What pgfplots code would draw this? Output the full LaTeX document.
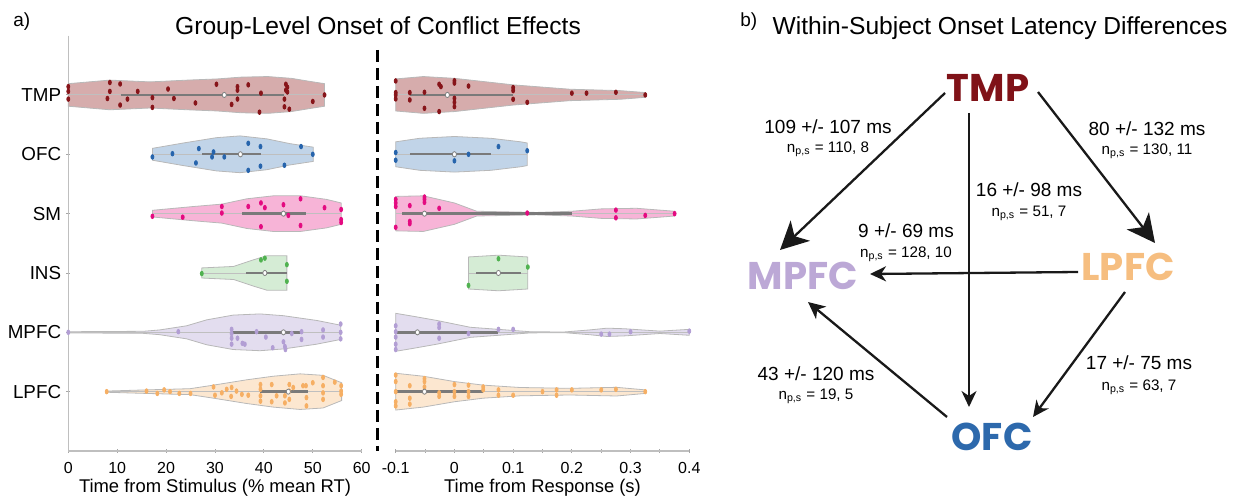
\documentclass[border=0pt]{standalone}
\usepackage{fontspec}
\setmainfont{Liberation Sans}
\newfontfamily\geo{Poppins}
\usepackage{pgfplots}
\pgfplotsset{compat=1.18}
\usetikzlibrary{arrows.meta}

% region colours: light fill / dark points
\definecolor{tmpF}{RGB}{214,172,172}
\definecolor{tmpD}{RGB}{135,20,25}
\definecolor{ofcF}{RGB}{193,212,232}
\definecolor{ofcD}{RGB}{38,100,172}
\definecolor{smF}{RGB}{247,180,215}
\definecolor{smD}{RGB}{228,10,128}
\definecolor{insF}{RGB}{213,236,213}
\definecolor{insD}{RGB}{80,178,80}
\definecolor{mpF}{RGB}{227,221,239}
\definecolor{mpD}{RGB}{178,158,212}
\definecolor{lpF}{RGB}{252,231,208}
\definecolor{lpD}{RGB}{246,175,100}
% node colours of the latency graph
\definecolor{nTMP}{RGB}{128,18,24}
\definecolor{nMPFC}{RGB}{188,168,214}
\definecolor{nLPFC}{RGB}{246,190,128}
\definecolor{nOFC}{RGB}{45,105,172}

\pgfplotsset{
  vviolin/.style={draw=black!28, line width=0.4pt, fill=#1},
  vwhisk/.style={draw=black!25, line width=0.45pt},
  viqr/.style={draw=black!52, line width=1.2pt},
  vmed/.style={only marks, mark=*, mark size=1.3pt,
    mark options={fill=white, draw=black!50, line width=0.4pt, xscale=0.8}},
  vpts/.style={only marks, mark=*, color=#1, mark size=1.15pt,
    mark options={xscale=0.65}},
  viol/.style={
    scale only axis, height=207.7pt,
    ymin=0, ymax=7, y dir=reverse, clip=false,
    tick style={draw=black!35, line width=0.45pt},
    tick align=inside, major tick length=1.8pt, minor tick length=1.8pt,
    /pgf/number format/assume math mode=true,
    xticklabel style={font=\fontsize{8}{9}\selectfont, anchor=base, yshift=-10.5pt},
    xlabel style={font=\fontsize{9.2}{10}\selectfont,
      at={(axis description cs:0.5,0)}, anchor=base, yshift=-20.5pt},
  },
  vlines/.style={
    axis line style={-, draw=black!25, line width=0.7pt},
    x axis line style={-}, y axis line style={-},
  },
}

\newcommand\latency[5]{% x, y1, y2, main text, n text
  \node[anchor=base, inner sep=0pt, font=\fontsize{9.5}{10}\selectfont]
    at (axis cs:#1,#2) {#4};
  \node[anchor=base, inner sep=0pt, font=\fontsize{7.6}{8}\selectfont]
    at (axis cs:#1,#3) {n\textsubscript{p,s} = #5};
}

\begin{document}
\begin{tikzpicture}
\path[use as bounding box] (0,0) rectangle (618pt,248.5pt);

\node[anchor=base west, inner sep=0pt, font=\fontsize{9.5}{10}\selectfont] at (6.5pt,235pt) {a)};
\node[anchor=base west, inner sep=0pt, font=\fontsize{9.5}{10}\selectfont] at (370pt,235pt) {b)};
\node[anchor=base, inner sep=0pt, font=\fontsize{12.3}{14}\selectfont] at (189pt,231pt)
  {Group-Level Onset of Conflict Effects};
\node[anchor=base, inner sep=0pt, font=\fontsize{12.3}{14}\selectfont] at (500pt,231pt)
  {Within-Subject Onset Latency Differences};

%% ---------- stimulus-locked onsets ----------
\begin{axis}[viol,
  at={(34.15pt,23pt)}, anchor=south west, width=146.7pt,
  xmin=0, xmax=60, xtick={0,10,...,60},
  axis x line=bottom, axis y line=left, vlines,
  ytick={1,2,3,4,5,6}, yticklabels={TMP,OFC,SM,INS,MPFC,LPFC},
  yticklabel style={font=\fontsize{9.4}{10}\selectfont, anchor=east, inner sep=0pt, xshift=-2.5pt},
  xlabel={Time from Stimulus (\% mean RT)},
]
% TMP
\addplot[vviolin=tmpF] coordinates {(0,0.81)(8.5,0.75)(16.7,0.78)(24.4,0.75)(30.5,0.73)(35.3,0.70)(40.8,0.69)(45.6,0.72)(49.3,0.77)(52.4,0.81)(52.4,1.19)(49.3,1.23)(45.6,1.28)(40.8,1.31)(35.3,1.30)(30.5,1.27)(24.4,1.25)(16.7,1.22)(8.5,1.25)(0,1.19)} -- cycle;
\addplot[vwhisk] coordinates {(0,1)(52.4,1)};
\addplot[vpts=tmpD] coordinates {(0,0.86)(0,0.94)(0,1.07)(8.5,0.79)(8.5,0.94)(8.0,1.06)(10.6,0.815)(10.6,1.17)(12.1,1.07)(14.2,0.94)(17.2,1.045)(17.2,1.21)(20.4,0.9)(21.6,1.06)(26.0,1.135)(30.3,0.82)(33.4,1.16)(34.6,0.86)(34.6,0.92)(34.6,1.07)(36.8,0.83)(39.1,1.29)(39.4,0.97)(44.2,1.07)(44.2,1.2)(44.5,0.82)(44.5,0.92)(44.8,0.87)(44.8,0.95)(45.2,1.24)(50.0,1.11)(52.4,1.0)};
\addplot[viqr] coordinates {(10.7,1)(44.1,1)};
\addplot[vmed] coordinates {(31.9,1)};
% OFC
\addplot[vviolin=ofcF] coordinates {(17.2,1.90)(23.5,1.81)(30.3,1.72)(35.1,1.69)(40.6,1.74)(45.3,1.82)(50.1,1.88)(50.1,2.12)(45.3,2.18)(40.6,2.26)(35.1,2.31)(30.3,2.28)(23.5,2.19)(17.2,2.10)} -- cycle;
\addplot[vwhisk] coordinates {(17.2,2)(50.1,2)};
\addplot[vpts=ofcD] coordinates {(17.2,2.045)(21.3,1.99)(26.1,2.146)(26.7,1.904)(29.4,2.045)(29.7,1.96)(31.9,2.045)(36.8,1.815)(36.8,2.27)(39.3,1.87)(39.3,2.2)(44.2,2.185)(47.6,1.87)(50.0,2.0)};
\addplot[viqr] coordinates {(27.4,2)(39.5,2)};
\addplot[vmed] coordinates {(35.2,2)};
% SM
\addplot[vviolin=smF] coordinates {(17.2,2.944)(25.6,2.88)(31.4,2.84)(36.5,2.75)(41.9,2.70)(47.5,2.70)(52.8,2.76)(55.8,2.82)(55.8,3.18)(52.8,3.24)(47.5,3.30)(41.9,3.30)(36.5,3.25)(31.4,3.16)(25.6,3.12)(17.2,3.056)} -- cycle;
\addplot[vwhisk] coordinates {(17.2,3)(55.8,3)};
\addplot[vpts=smD] coordinates {(17.2,3.045)(23.4,3.06)(31.4,2.88)(31.4,2.99)(36.8,2.88)(39.4,2.82)(40.2,2.9)(39.4,3.22)(44.0,2.85)(45.0,3.03)(47.5,2.75)(47.5,3.2)(52.4,2.9)(55.8,2.93)(55.8,3.1)(55.8,3.15)};
\addplot[viqr] coordinates {(35.5,3)(48.7,3)};
\addplot[vmed] coordinates {(44.0,3)};
% INS
\addplot[vviolin=insF] coordinates {(27.3,3.915)(33.8,3.89)(37.8,3.78)(40.6,3.71)(44.7,3.71)(44.7,4.29)(40.6,4.29)(37.8,4.22)(33.8,4.11)(27.3,4.085)} -- cycle;
\addplot[vwhisk] coordinates {(27.3,4)(44.7,4)};
\addplot[vpts=insD] coordinates {(27.3,4.01)(39.4,3.78)(40.2,3.75)(44.7,3.86)(44.7,4.14)};
\addplot[viqr] coordinates {(36.3,4)(44.7,4)};
\addplot[vmed] coordinates {(40.2,4)};
% MPFC
\addplot[vviolin=mpF] coordinates {(0,4.99)(15.3,4.983)(18.7,4.96)(24.2,4.89)(28.3,4.79)(33.7,4.71)(39.2,4.69)(44,4.72)(50.8,4.8)(55.7,4.88)(55.7,5.12)(50.8,5.2)(44,5.28)(39.2,5.31)(33.7,5.29)(28.3,5.21)(24.2,5.11)(18.7,5.04)(15.3,5.017)(0,5.01)} -- cycle;
\addplot[vwhisk] coordinates {(0,5)(55.7,5)};
\addplot[vpts=mpD] coordinates {(0,5.0)(22.5,4.99)(33.4,4.95)(33.4,5.02)(33.4,5.1)(33.4,5.2)(34.6,5.1)(35.6,5.185)(36.1,5.2)(38.5,4.99)(40.4,5.08)(41.8,5.26)(44.0,5.16)(44.3,5.24)(44.4,5.29)(45.7,5.02)(47.7,4.99)(47.7,5.12)(52.1,4.96)(52.1,5.08)(55.7,4.86)(55.7,5.0)(55.7,5.11)};
\addplot[viqr] coordinates {(33.4,5)(47.7,5)};
\addplot[vmed] coordinates {(44.0,5)};
% LPFC
\addplot[vviolin=lpF] coordinates {(7.85,5.99)(16,5.97)(24.9,5.95)(29.7,5.89)(36.5,5.8)(41.9,5.74)(47.4,5.7)(52.1,5.725)(55.9,5.85)(55.9,6.15)(52.1,6.275)(47.4,6.3)(41.9,6.26)(36.5,6.2)(29.7,6.11)(24.9,6.05)(16,6.03)(7.85,6.01)} -- cycle;
\addplot[vwhisk] coordinates {(7.85,6)(55.8,6)};
\addplot[vpts=lpD] coordinates {(7.85,6.0)(16.0,5.99)(18.2,6.03)(19.6,5.97)(20.8,6.0)(22.7,6.03)(25.0,6.03)(29.7,5.92)(30.0,6.06)(31.4,6.02)(32.4,5.96)(33.3,6.08)(33.4,5.93)(34.4,5.99)(35.5,6.045)(36.8,6.06)(39.3,5.88)(39.3,5.96)(39.3,6.07)(39.3,6.16)(41.6,5.88)(41.6,6.17)(42.6,6.07)(44.3,6.07)(44.3,6.19)(45.2,5.88)(45.2,5.99)(45.2,6.13)(46.0,5.93)(48.0,5.9)(48.6,5.9)(48.7,6.1)(48.7,6.24)(50.0,5.85)(52.1,5.76)(52.1,5.9)(52.1,6.02)(52.1,6.13)(54.5,5.84)(55.8,5.9)(55.8,5.99)(55.8,6.045)};
\addplot[viqr] coordinates {(39.2,6)(49.1,6)};
\addplot[vmed] coordinates {(45.0,6)};
% separator between the two alignments
\addplot[black, line width=1.3pt, dash pattern=on 6pt off 3pt] coordinates {(63.2,0.24)(63.2,7)};
\end{axis}

%% ---------- response-locked onsets ----------
\begin{axis}[viol,
  at={(197.85pt,23pt)}, anchor=south west, width=146.8pt,
  xmin=-0.1, xmax=0.4,
  xtick={-0.1,0,0.1,0.2,0.3,0.4}, xticklabels={-0.1,0,0.1,0.2,0.3,0.4},
  minor xtick={-0.05,0.05,0.15,0.25,0.35},
  axis x line=bottom, axis y line=none, vlines, ytick=\empty,
  xlabel={Time from Response (s)},
]
% TMP
\addplot[vviolin=tmpF] coordinates {(-0.1,0.73)(-0.053,0.69)(0,0.72)(0.1,0.83)(0.197,0.904)(0.282,0.927)(0.325,0.96)(0.325,1.04)(0.282,1.073)(0.197,1.096)(0.1,1.17)(0,1.28)(-0.053,1.31)(-0.1,1.27)} -- cycle;
\addplot[vwhisk] coordinates {(-0.1,1)(0.325,1)};
\addplot[vpts=tmpD] coordinates {(-0.1,0.764)(-0.1,0.96)(-0.1,1.0)(-0.1,1.067)(-0.076,0.96)(-0.076,1.084)(-0.051,0.955)(-0.051,1.225)(-0.026,0.82)(-0.023,0.86)(-0.026,1.28)(0,0.76)(0,0.80)(0,1.056)(0,1.124)(0,1.197)(0.024,0.85)(0.1,0.876)(0.1,0.927)(0.1,1.073)(0.124,1.124)(0.2,0.97)(0.225,0.97)(0.275,0.955)(0.325,1.0)};
\addplot[viqr] coordinates {(-0.076,1)(0.1,1)};
\addplot[vmed] coordinates {(-0.012,1)};
% OFC
\addplot[vviolin=ofcF] coordinates {(-0.1,1.79)(-0.059,1.73)(0,1.70)(0.062,1.73)(0.113,1.79)(0.124,1.81)(0.124,2.19)(0.113,2.21)(0.062,2.27)(0,2.30)(-0.059,2.27)(-0.1,2.21)} -- cycle;
\addplot[vwhisk] coordinates {(-0.1,2)(0.124,2)};
\addplot[vpts=ofcD] coordinates {(-0.1,1.97)(-0.1,2.1)(0,2.0)(0,2.11)(0.024,2.0)(0.075,1.87)(0.124,1.94)};
\addplot[viqr] coordinates {(-0.076,2)(0.062,2)};
\addplot[vmed] coordinates {(0,2)};
% SM
\addplot[vviolin=smF] coordinates {(-0.1,2.71)(-0.053,2.70)(0,2.82)(0.038,2.96)(0.14,2.98)(0.2,2.96)(0.25,2.92)(0.31,2.91)(0.375,2.96)(0.375,3.04)(0.31,3.09)(0.25,3.08)(0.2,3.04)(0.14,3.02)(0.038,3.04)(0,3.18)(-0.053,3.30)(-0.1,3.29)} -- cycle;
\addplot[vwhisk] coordinates {(-0.1,3)(0.375,3)};
\addplot[vpts=smD] coordinates {(-0.1,2.76)(-0.1,2.82)(-0.1,2.88)(-0.1,3.23)(-0.076,2.865)(-0.076,3.13)(-0.076,3.17)(-0.051,2.72)(-0.051,2.76)(-0.051,2.81)(-0.026,2.91)(0.124,2.99)(0.275,2.94)(0.275,3.07)(0.325,3.03)(0.375,3.0)};
\addplot[viqr] coordinates {(-0.089,3)(0.2,3)};
\addplot[vmed] coordinates {(-0.051,3)};
% INS
\addplot[vviolin=insF] coordinates {(0.024,3.73)(0.075,3.70)(0.125,3.73)(0.125,4.27)(0.075,4.30)(0.024,4.27)} -- cycle;
\addplot[vwhisk] coordinates {(0.024,4)(0.125,4)};
\addplot[vpts=insD] coordinates {(0.024,4.21)(0.075,3.76)(0.125,3.9)};
\addplot[viqr] coordinates {(0.037,4)(0.113,4)};
\addplot[vmed] coordinates {(0.075,4)};
% MPFC
\addplot[vviolin=mpF] coordinates {(-0.1,4.68)(-0.07,4.73)(-0.03,4.8)(0.027,4.915)(0.075,4.95)(0.129,4.99)(0.186,4.995)(0.23,4.96)(0.26,4.93)(0.29,4.94)(0.35,4.98)(0.4,4.95)(0.4,5.05)(0.35,5.02)(0.29,5.06)(0.26,5.07)(0.23,5.04)(0.186,5.005)(0.129,5.01)(0.075,5.05)(0.027,5.085)(-0.03,5.2)(-0.07,5.27)(-0.1,5.32)} -- cycle;
\addplot[vwhisk] coordinates {(-0.1,5)(0.4,5)};
\addplot[vpts=mpD] coordinates {(-0.1,4.89)(-0.1,4.99)(-0.1,5.08)(-0.1,5.2)(-0.1,5.29)(-0.026,4.86)(-0.026,4.92)(-0.026,5.1)(0.024,5.02)(0.075,4.95)(0.1,4.95)(0.25,5.03)(0.264,5.03)(0.3,4.99)(0.4,4.98)};
\addplot[viqr] coordinates {(-0.1,5)(0.075,5)};
\addplot[vmed] coordinates {(-0.063,5)};
% LPFC
\addplot[vviolin=lpF] coordinates {(-0.1,5.69)(-0.053,5.74)(0,5.83)(0.049,5.89)(0.112,5.93)(0.197,5.944)(0.276,5.927)(0.325,5.97)(0.325,6.03)(0.276,6.073)(0.197,6.056)(0.112,6.07)(0.049,6.11)(0,6.17)(-0.053,6.26)(-0.1,6.31)} -- cycle;
\addplot[vwhisk] coordinates {(-0.1,6)(0.325,6)};
\addplot[vpts=lpD] coordinates {(-0.1,5.72)(-0.1,5.83)(-0.1,6.0)(-0.1,6.17)(-0.1,6.24)(-0.076,5.9)(-0.076,6.11)(-0.076,6.21)(-0.051,5.78)(-0.051,5.83)(-0.051,5.92)(-0.051,6.0)(-0.026,6.02)(-0.026,6.08)(0,5.88)(0,6.0)(0,6.08)(0.024,5.89)(0.024,6.0)(0.024,6.08)(0.049,5.92)(0.049,5.97)(0.075,5.97)(0.075,6.06)(0.1,6.06)(0.15,6.0)(0.174,5.97)(0.174,6.06)(0.2,5.97)(0.25,5.97)(0.275,5.96)(0.325,6.0)};
\addplot[viqr] coordinates {(-0.1,6)(0.049,6)};
\addplot[vmed] coordinates {(-0.051,6)};
\end{axis}

%% ---------- within-subject latency graph ----------
\begin{axis}[
  at={(370pt,0pt)}, anchor=south west, scale only axis,
  width=248pt, height=248.5pt,
  xmin=740, xmax=1236, ymin=0, ymax=497, y dir=reverse,
  hide axis, clip=false,
]
\addplot[black!90, line width=1.15pt, -{Stealth[length=14pt, width=14pt, inset=4pt]}] coordinates {(945,93)(780,250)};
\addplot[black!90, line width=1.15pt, -{Stealth[length=14pt, width=14pt, inset=4pt]}] coordinates {(1038,92)(1155,243)};
\addplot[black!90, line width=1.15pt, -{Stealth[length=8pt, width=7.5pt, inset=2.5pt]}] coordinates {(969,113)(969,407)};
\addplot[black!90, line width=1.15pt, -{Stealth[length=8pt, width=7.5pt, inset=2.5pt]}] coordinates {(1078,272)(870,274)};
\addplot[black!90, line width=1.15pt, -{Stealth[length=8pt, width=7.5pt, inset=2.5pt]}] coordinates {(1125,292)(1033,417)};
\addplot[black!90, line width=1.15pt, -{Stealth[length=8.5pt, width=8pt, inset=2.5pt]}] coordinates {(947,417)(808,302)};

\node[anchor=base, inner sep=0pt, text=nTMP, font=\geo\bfseries\fontsize{19.3}{20}\selectfont] at (axis cs:988,101.7) {TMP};
\node[anchor=base, inner sep=0pt, text=nMPFC, font=\geo\bfseries\fontsize{19.3}{20}\selectfont] at (axis cs:803,290) {MPFC};
\node[anchor=base, inner sep=0pt, text=nLPFC, font=\geo\bfseries\fontsize{19.3}{20}\selectfont] at (axis cs:1128,280) {LPFC};
\node[anchor=base, inner sep=0pt, text=nOFC, font=\geo\bfseries\fontsize{19.3}{20}\selectfont] at (axis cs:992,450) {OFC};

\latency{828}{134}{153}{109 +/- 107 ms}{110, 8}
\latency{1147}{136}{155}{80 +/- 132 ms}{130, 11}
\latency{1029}{197}{217}{16 +/- 98 ms}{51, 7}
\latency{906}{238}{257}{9 +/- 69 ms}{128, 10}
\latency{816}{380}{399}{43 +/- 120 ms}{19, 5}
\latency{1139}{369}{390}{17 +/- 75 ms}{63, 7}
\end{axis}
\end{tikzpicture}
\end{document}
